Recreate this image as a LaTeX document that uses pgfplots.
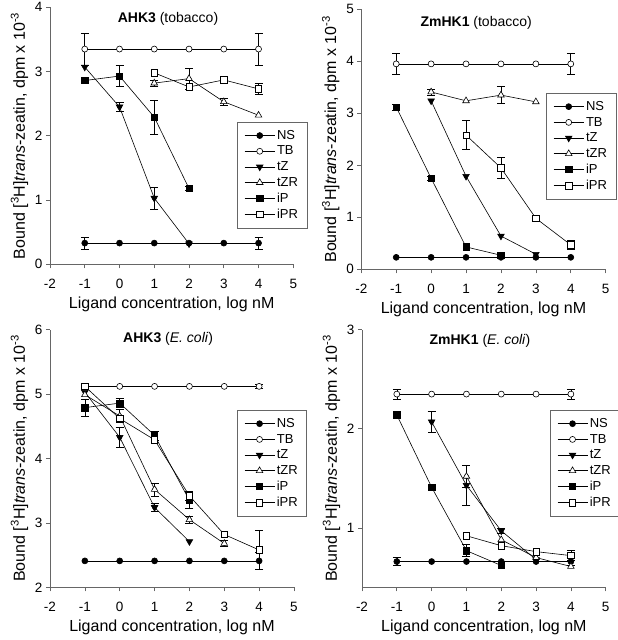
\documentclass[border=0pt]{standalone}
\usepackage{fontspec}
\setmainfont{Liberation Sans}
\usepackage{pgfplots}
\pgfplotsset{compat=1.18}
\pgfplotsset{
 myax/.style={
  scale only axis, anchor=south west,
  xmin=-2, xmax=5, xtick={-2,-1,0,1,2,3,4,5},
  axis lines*=left,
  axis line style={black!60, line width=0.7pt},
  tick style={black!60, line width=0.7pt},
  tick align=outside, major tick length=4pt,
  tick label style={font=\fontsize{13.5}{15}\selectfont},
  xticklabel style={yshift=-7pt},
  /pgf/number format/assume math mode=true,
  label style={font=\fontsize{16}{18}\selectfont},
  xlabel={Ligand concentration, log nM},
  xlabel style={yshift=-2pt},
  ylabel={Bound [\textsuperscript{3}H]\textit{trans}-zeatin, dpm x 10\textsuperscript{-3}},
  title style={anchor=center, font=\fontsize{14}{16}\selectfont},
  legend style={draw=black!60, line width=0.7pt, fill=white, font=\fontsize{13}{15}\selectfont, anchor=north west, row sep=1.2pt, inner xsep=7pt, inner ysep=6pt},
  legend cell align=left,
  legend image code/.code={\draw[mark repeat=2,mark phase=2,#1] plot coordinates {(0pt,0pt)(15pt,0pt)(30pt,0pt)};},
 },
 NS/.style={black, line width=0.6pt, mark=*, mark size=3pt, mark options={fill=black}},
 TB/.style={black, line width=0.6pt, mark=*, mark size=3pt, mark options={fill=white}},
 tZ/.style={black, line width=0.6pt, mark=triangle*, mark size=3.8pt, mark options={fill=black, rotate=180}},
 tZR/.style={black, line width=0.6pt, mark=triangle*, mark size=3.8pt, mark options={fill=white}},
 iP/.style={black, line width=0.6pt, mark=square*, mark size=3.2pt, mark options={fill=black}},
 iPR/.style={black, line width=0.6pt, mark=square*, mark size=3.2pt, mark options={fill=white}},
 eb/.style={forget plot, only marks, mark=none, black, line width=0.6pt,
   error bars/.cd, y dir=both, y explicit, error mark=|,
   error bar style={line width=0.6pt, black},
   error mark options={mark size=4pt, line width=0.6pt, black}},
}
\begin{document}
\begin{tikzpicture}
\useasboundingbox (0pt,0pt) rectangle (618pt,640pt);

% Panel 1: AHK3 (tobacco)
\begin{axis}[myax, at={(50pt,375.7pt)}, width=243.3pt, height=257pt,
  ymin=0, ymax=4, ytick={0,1,2,3,4},
  title={\textbf{AHK3} (tobacco)}, title style={at={(0.485,0.93)}},
  legend style={at={(0.769,0.554)}}]
\addplot[eb] coordinates {(-1,0.33) +- (0,0.09) (4,0.33) +- (0,0.09)};
\addplot[eb] coordinates {(-1,3.35) +- (0,0.25) (4,3.35) +- (0,0.25)};
\addplot[eb] coordinates {(0,2.45) +- (0,0.07) (1,1.03) +- (0,0.17)};
\addplot[eb] coordinates {(1,2.82) +- (0,0.05) (2,2.89) +- (0,0.16) (3,2.53) +- (0,0.05)};
\addplot[eb] coordinates {(0,2.93) +- (0,0.16) (1,2.29) +- (0,0.27) (2,1.18) +- (0,0.03)};
\addplot[eb] coordinates {(4,2.73) +- (0,0.08)};
\addplot[NS] coordinates {(-1,0.33) (0,0.33) (1,0.33) (2,0.33) (3,0.33) (4,0.33)};
\addplot[TB] coordinates {(-1,3.35) (0,3.35) (1,3.35) (2,3.35) (3,3.35) (4,3.35)};
\addplot[tZ] coordinates {(-1,3.07) (0,2.45) (1,1.03) (2,0.32)};
\addplot[tZR] coordinates {(1,2.82) (2,2.89) (3,2.53) (4,2.32)};
\addplot[iP] coordinates {(-1,2.86) (0,2.93) (1,2.29) (2,1.18)};
\addplot[iPR] coordinates {(1,2.98) (2,2.76) (3,2.87) (4,2.73)};
\legend{NS,TB,tZ,tZR,iP,iPR}
\end{axis}

% Panel 2: ZmHK1 (tobacco)
\begin{axis}[myax, at={(361.3pt,370.7pt)}, width=244.4pt, height=260pt,
  ymin=0, ymax=5, ytick={0,1,2,3,4,5},
  title={\textbf{ZmHK1} (tobacco)}, title style={at={(0.47,0.924)}},
  legend style={at={(0.756,0.678)}}]
\addplot[eb] coordinates {(-1,3.95) +- (0,0.2) (4,3.95) +- (0,0.2)};
\addplot[eb] coordinates {(0,3.41) +- (0,0.06) (2,3.35) +- (0,0.16)};
\addplot[eb] coordinates {(-1,3.12) +- (0,0.06) (0,1.75) +- (0,0.04)};
\addplot[eb] coordinates {(1,2.58) +- (0,0.28) (2,1.95) +- (0,0.2) (4,0.47) +- (0,0.08)};
\addplot[NS] coordinates {(-1,0.23) (0,0.23) (1,0.23) (2,0.23) (3,0.23) (4,0.23)};
\addplot[TB] coordinates {(-1,3.95) (0,3.95) (1,3.95) (2,3.95) (3,3.95) (4,3.95)};
\addplot[tZ] coordinates {(0,3.24) (1,1.79) (2,0.64) (3,0.29)};
\addplot[tZR] coordinates {(0,3.41) (1,3.24) (2,3.35) (3,3.22)};
\addplot[iP] coordinates {(-1,3.12) (0,1.75) (1,0.43) (2,0.27)};
\addplot[iPR] coordinates {(1,2.58) (2,1.95) (3,0.98) (4,0.47)};
\legend{NS,TB,tZ,tZR,iP,iPR}
\end{axis}

% Panel 3: AHK3 (E. coli)
\begin{axis}[myax, at={(50pt,52.7pt)}, width=244pt, height=257.6pt,
  ymin=2, ymax=6, ytick={2,3,4,5,6},
  title={\textbf{AHK3} (\textit{E. coli})}, title style={at={(0.484,0.94)}},
  legend style={at={(0.766,0.688)}}]
\addplot[eb] coordinates {(4,2.41) +- (0,0.13)};
\addplot[eb] coordinates {(4,5.12) +- (0,0.03)};
\addplot[eb] coordinates {(0,4.33) +- (0,0.16) (1,3.24) +- (0,0.06)};
\addplot[eb] coordinates {(0,4.66) +- (0,0.1) (1,3.52) +- (0,0.1) (2,3.05) +- (0,0.05) (3,2.68) +- (0,0.05)};
\addplot[eb] coordinates {(-1,4.79) +- (0,0.13) (0,4.86) +- (0,0.07) (1,4.36) +- (0,0.07) (2,3.35) +- (0,0.13)};
\addplot[eb] coordinates {(2,3.42) +- (0,0.07) (4,2.58) +- (0,0.3)};
\addplot[NS] coordinates {(-1,2.41) (0,2.41) (1,2.41) (2,2.41) (3,2.41) (4,2.41)};
\addplot[TB] coordinates {(-1,5.12) (0,5.12) (1,5.12) (2,5.12) (3,5.12) (4,5.12)};
\addplot[tZ] coordinates {(-1,5.03) (0,4.33) (1,3.24) (2,2.71)};
\addplot[tZR] coordinates {(-1,4.99) (0,4.66) (1,3.52) (2,3.05) (3,2.68)};
\addplot[iP] coordinates {(-1,4.79) (0,4.86) (1,4.36) (2,3.35)};
\addplot[iPR] coordinates {(-1,5.12) (0,4.62) (1,4.29) (2,3.42) (3,2.82) (4,2.58)};
\legend{NS,TB,tZ,tZR,iP,iPR}
\end{axis}

% Panel 4: ZmHK1 (E. coli)
\begin{axis}[myax, at={(362pt,52.7pt)}, width=243.7pt, height=257.6pt,
  ymin=0.4, ymax=3, ytick={1,2,3},
  title={\textbf{ZmHK1} (\textit{E. coli})}, title style={at={(0.484,0.933)}},
  legend style={at={(0.771,0.688)}}]
\addplot[eb] coordinates {(-1,0.66) +- (0,0.04) (4,0.66) +- (0,0.04)};
\addplot[eb] coordinates {(-1,2.35) +- (0,0.05) (4,2.35) +- (0,0.05)};
\addplot[eb] coordinates {(0,2.07) +- (0,0.11) (1,1.43) +- (0,0.2) (2,0.97) +- (0,0.03)};
\addplot[eb] coordinates {(1,1.52) +- (0,0.11)};
\addplot[eb] coordinates {(1,0.77) +- (0,0.06)};
\addplot[eb] coordinates {(4,0.72) +- (0,0.05)};
\addplot[NS] coordinates {(-1,0.66) (0,0.66) (1,0.66) (2,0.66) (3,0.66) (4,0.66)};
\addplot[TB] coordinates {(-1,2.35) (0,2.35) (1,2.35) (2,2.35) (3,2.35) (4,2.35)};
\addplot[tZ] coordinates {(0,2.07) (1,1.43) (2,0.97) (3,0.68)};
\addplot[tZR] coordinates {(1,1.52) (2,0.88) (3,0.70) (4,0.61)};
\addplot[iP] coordinates {(-1,2.14) (0,1.41) (1,0.77) (2,0.62)};
\addplot[iPR] coordinates {(1,0.92) (2,0.82) (3,0.76) (4,0.72)};
\legend{NS,TB,tZ,tZR,iP,iPR}
\end{axis}
\end{tikzpicture}
\end{document}
